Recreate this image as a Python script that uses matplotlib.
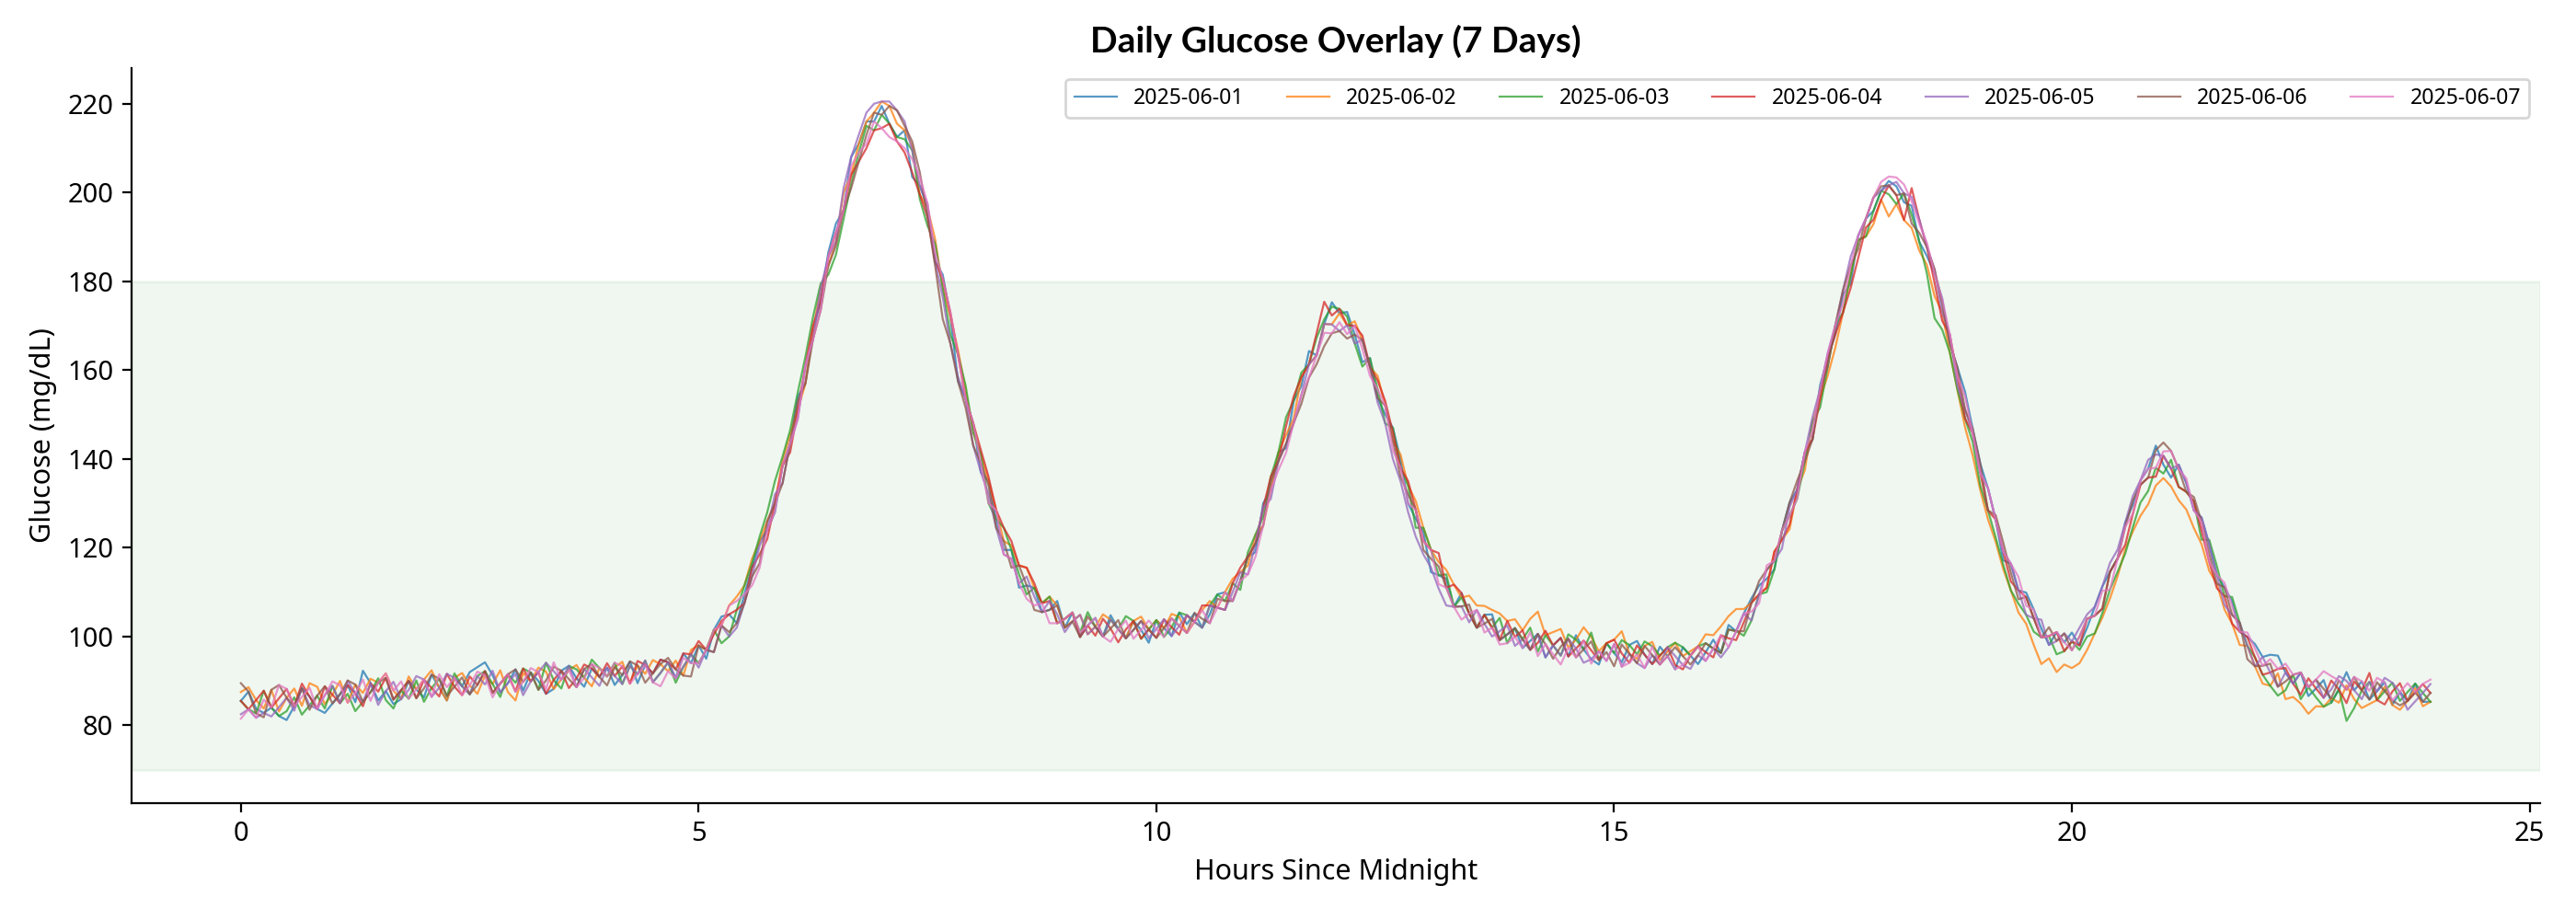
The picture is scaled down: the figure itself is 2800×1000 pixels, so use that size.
import numpy as np
import matplotlib
matplotlib.use("Agg")
import matplotlib.pyplot as plt

plt.rcParams['font.family'] = ['Noto Sans', 'DejaVu Sans']

# one reading every 5 minutes -> 288 per day
hours = np.arange(288) / 12

days = ['2025-06-01', '2025-06-02', '2025-06-03', '2025-06-04',
        '2025-06-05', '2025-06-06', '2025-06-07']

# typical day (mg/dL), 24 readings per row = 2 hours
typical = [
    85.5, 85.6, 85.7, 85.8, 86.0, 86.1, 86.2, 86.3, 86.4, 86.5, 86.7, 86.8, 86.9, 87.0, 87.1, 87.2, 87.3, 87.5, 87.6, 87.7, 87.8, 87.9, 88.0, 88.1,
    88.3, 88.4, 88.5, 88.6, 88.7, 88.8, 89.0, 89.1, 89.2, 89.3, 89.4, 89.5, 89.6, 89.8, 89.9, 90.0, 90.1, 90.2, 90.3, 90.4, 90.6, 90.7, 90.8, 90.9,
    91.0, 91.1, 91.3, 91.4, 91.5, 91.6, 91.7, 91.8, 92.2, 92.6, 93.2, 94.0, 96.0, 97.0, 98.5, 100.5, 103.0, 106.0, 109.5, 113.5, 118.5, 124.0, 130.0, 136.5,
    143.5, 151.0, 159.0, 167.0, 175.5, 183.5, 191.0, 198.0, 204.0, 209.0, 213.0, 216.0, 217.5, 217.5, 215.5, 212.0, 207.5, 201.5, 194.5, 186.5, 178.5, 170.0, 161.5, 153.5,
    146.0, 139.0, 132.0, 126.5, 121.5, 117.5, 114.0, 111.5, 109.0, 107.5, 106.0, 105.0, 104.0, 103.4, 102.9, 102.5, 102.2, 102.0, 101.8, 101.7, 101.6, 101.5, 101.5, 101.6,
    101.7, 101.9, 102.1, 102.4, 102.8, 103.3, 104.0, 105.0, 106.5, 108.0, 110.0, 112.5, 116.0, 121.0, 127.0, 133.0, 139.5, 145.4, 151.1, 156.4, 161.3, 165.3, 168.4, 170.3,
    170.8, 170.1, 168.0, 164.8, 160.7, 155.7, 150.0, 144.0, 138.0, 132.0, 126.5, 121.5, 117.5, 113.8, 111.0, 108.7, 106.8, 105.2, 104.0, 102.9, 102.0, 101.2, 100.5, 99.9,
    99.4, 99.0, 98.6, 98.3, 98.0, 97.7, 97.5, 97.3, 97.1, 96.9, 96.7, 96.5, 96.3, 96.2, 96.1, 96.0, 95.9, 95.8, 95.7, 95.6, 95.6, 95.6, 95.7, 95.8,
    96.5, 97.3, 98.3, 99.6, 101.2, 103.2, 105.6, 109.5, 113.0, 117.1, 121.8, 127.2, 133.1, 139.5, 146.4, 153.6, 160.8, 168.1, 175.0, 181.5, 187.3, 192.1, 195.9, 198.4,
    199.6, 199.4, 197.8, 195.0, 190.9, 185.7, 179.7, 173.1, 166.0, 158.6, 151.1, 143.8, 136.9, 130.4, 124.4, 119.2, 114.4, 110.4, 106.9, 104.1, 101.8, 100.1, 99.0, 98.7,
    98.9, 100.0, 102.0, 104.7, 108.3, 112.6, 117.6, 122.7, 127.7, 132.2, 135.8, 138.0, 138.7, 137.8, 135.7, 132.6, 128.4, 123.8, 118.8, 113.9, 109.1, 104.9, 101.1, 97.9,
    95.3, 93.4, 91.9, 90.7, 89.9, 89.4, 88.9, 88.6, 88.3, 88.2, 88.1, 88.1, 88.0, 87.9, 87.9, 87.8, 87.7, 87.7, 87.6, 87.5, 87.5, 87.4, 87.3, 87.3,
]

# how each day differs from the typical day (mg/dL)
dev_0601 = [
    0, 2, -2, -3, -2, -4, -5, -2, 2, 0, -3, -4, -2, 0, 2, -2, 5, 2, -2, 0, -3, -2, 2, 0,
    -2, 3, 0, -3, 2, 0, 3, 4, 5, 2, -2, 0, 3, -2, 2, 0, -3, -2, 2, 3, 0, -2, 2, 0,
    2, -2, 0, 3, -2, 2, 0, 3, 2, -2, 3, 0, 2, -2, 3, 4, 2, -3, 0, 2, 3, 0, -2, 2,
    0, 3, -2, 2, 0, 3, 2, -2, 4, 2, 3, 0, 2, -2, -3, 2, -4, 0, 2, -2, 3, 2, -4, 0,
    2, -2, 3, 0, -2, 2, -3, 0, 2, -2, 0, 3, -2, 2, -3, 0, 2, -2, 3, 0, -2, 2, 0, -3,
    2, 0, -2, 3, 0, 2, -2, 0, 3, 2, -2, 0, 2, -2, 3, 0, 2, -3, 2, 0, 3, -2, 2, 5,
    2, 3, 0, -3, 2, -2, 0, 3, 2, -2, 0, 2, -3, 0, 2, -2, 3, 0, -2, 2, 3, -2, 0, 2,
    -2, 0, 2, -3, 0, 2, -2, 3, 0, -2, -3, 2, 0, -2, 2, 3, 0, -2, 2, 0, -3, 2, 0, -2,
    0, 2, -2, 3, 0, 2, 3, 2, 0, -2, 2, 3, 0, 2, -2, 3, 2, 0, 2, -2, 3, 2, 0, 2,
    3, 2, 0, 2, -2, 0, 2, 3, 0, 2, 4, 3, 2, 3, 2, -2, 2, 0, 3, 2, 0, -2, 2, 0,
    2, -2, 0, 2, 3, 2, 0, 3, 2, 3, 2, 5, 0, -2, 3, 2, 0, 3, 2, 0, 2, 3, 0, 2,
    3, 2, 4, 5, 2, 0, 3, -2, 0, 2, -3, 0, 4, 0, 2, -2, 0, 2, -3, 0, -2, 2, -2, -2,
]
dev_0602 = [
    2, 3, 0, -2, 2, -3, 0, 2, -2, 3, 2, -2, 0, 3, -2, 2, 0, 3, 2, 4, 0, -2, 3, 0,
    2, 4, 0, -3, 2, 3, 0, -2, 2, 0, 3, -2, -4, 2, 0, 3, 2, -2, 0, 2, 3, 0, -2, 2,
    0, 2, 3, -2, 2, 0, 3, 2, 0, 2, -2, 3, 2, 0, 3, 2, 4, 3, 2, 4, 3, 2, 0, 3,
    2, 0, -2, 2, 3, 0, -2, 2, 0, 2, 3, 2, 3, 2, 0, 2, 3, -2, 2, 3, 0, 2, 3, 2,
    0, 2, 3, 2, 0, 3, 2, 4, 2, 0, 3, 2, -2, 0, 2, -2, 0, 3, 2, 0, -2, 2, 3, 0,
    2, 0, 3, 2, -2, 0, 2, 3, 0, 2, 3, 2, 0, 2, -2, 0, 2, 0, -2, 2, 0, -2, 2, 0,
    2, 0, 3, 2, 0, 3, 2, 0, 3, 2, 4, 3, 2, 3, 4, 3, 2, 4, 3, 4, 4, 4, 3, 4,
    2, 5, 7, 2, 3, 4, 0, 2, 5, 3, 0, 2, 3, 5, 0, -1, 2, 3, -1, 1, 3, 0, 1, 2,
    4, 3, 4, 5, 5, 3, 2, 0, -2, 2, 0, -3, 0, -2, 2, 0, -2, -3, -2, 0, 2, -2, -3, 0,
    -5, -2, -4, -3, -4, -2, -3, 0, -2, -3, -4, -3, -4, -4, -3, -4, -4, -5, -4, -6, -8, -5, -7, -5,
    -6, -6, -5, -4, -4, -4, -4, -3, -4, -5, -6, -4, -3, -4, -5, -4, -4, -3, -4, -2, -3, -2, -3, 0,
    -2, -4, -3, 1, -4, -3, -4, -6, -4, -4, -2, -3, 1, -2, -4, -3, -2, 1, -3, -4, -2, 1, -3, -2,
]
dev_0603 = [
    0, -2, -3, 2, -2, -4, -3, 0, -4, -2, 0, -3, 2, -2, 0, -4, -2, 0, 3, -2, -4, 0, -2, 2,
    -3, 0, 2, -2, 3, 0, -2, 2, 3, 0, -3, 2, 0, 3, 2, -2, 4, 0, -2, 3, 2, 0, 4, 2,
    0, 3, -2, 2, 0, 3, -2, 0, 2, -3, 0, 2, -2, 0, 3, -2, -3, 0, 2, 3, 4, 4, 5, 4,
    3, 4, 4, 5, 4, -2, -5, -4, -2, 0, 2, -2, 0, -2, -3, 0, 2, -3, -2, 2, 0, -2, 2, 3,
    0, 2, -2, 0, 3, 2, 0, -2, 2, 0, 3, -2, 0, 2, -2, 3, 0, -2, 2, 0, 3, 2, -2, 0,
    2, -2, 0, 3, 2, 0, -2, 2, 3, 0, 2, -2, 3, 2, 0, 3, 2, 4, 2, 3, 0, 2, 3, 4,
    3, 2, -2, -4, 2, 0, -2, 3, 0, 2, -2, 3, 2, 0, 3, -2, 2, 0, -2, 2, 0, 3, -2, 2,
    0, 3, -2, 2, 0, -2, 3, 2, 0, 4, -2, 2, 0, 3, 2, 0, 3, 2, 0, 2, 3, 2, 0, 2,
    2, 0, -2, 2, 0, -3, -2, 0, -3, -2, 2, 0, -2, 0, 2, -2, 0, 2, -2, 0, 2, -2, 0, 2,
    0, -2, 2, 0, -2, -4, -8, -4, -2, -3, -2, 0, -3, -2, -2, -3, -4, -3, -2, -3, -2, 0, -3, -2,
    0, -3, -2, -4, -3, -2, -3, -4, -3, -2, -3, 0, -2, 2, -2, 0, 2, -2, 3, 2, 0, 4, 2, 0,
    0, -2, -3, -4, -2, 2, -3, 0, -2, -4, -3, 0, -7, -4, 0, 2, -2, 0, 2, -2, 0, 2, 0, -2,
]
dev_0604 = [
    0, -2, 0, 2, -2, 0, 2, -2, 3, 0, -3, 2, 0, -2, 2, 0, -3, 2, 0, 3, -2, 0, 2, -2,
    2, 0, -2, 3, 0, -2, 2, 0, 3, -2, 0, 2, -2, 3, 0, 2, -3, 0, 2, -2, 0, 3, 2, 0,
    3, 0, 2, -2, 3, 2, 0, 3, 2, 0, 3, 2, 3, 0, 2, 3, 2, 0, -2, 2, 0, -2, 0, 2,
    -2, 0, 2, 3, 0, 2, 0, -2, 0, -2, -3, -2, -3, -2, -4, -3, -3, -2, 0, -2, 2, 3, 2, 0,
    2, 3, 4, 2, 3, 4, 2, 4, 3, 0, 2, -2, 0, 2, -3, 0, -2, 2, 0, -3, 0, 2, -2, 0,
    -2, 2, 0, -2, 2, 0, 3, 2, 0, -2, 2, 3, 2, 0, 2, 3, 0, 2, 3, 2, 0, 3, 7, 2,
    3, 0, 2, 3, 0, 2, 3, 2, 0, 3, 2, 0, 2, 5, 0, 3, 3, 0, -2, 2, 0, -2, 3, 0,
    2, -2, 0, 3, 0, 2, -2, 0, 2, 0, -2, 2, 3, 0, -2, 2, 0, -2, 0, 2, -2, -3, 0, 2,
    0, -2, 2, 0, -2, 0, 2, 0, -2, 2, 0, -2, 0, 2, -2, 0, 2, 0, -2, -3, -2, 0, -2, 0,
    2, 0, -4, 6, 3, 2, 0, -2, 2, 0, -2, 2, 0, -2, 2, 0, -2, 0, 2, 0, -2, 0, 2, -2,
    0, -2, 2, 0, -2, 2, 0, -2, 0, 2, 0, -2, 2, 0, -2, 0, 2, 0, -2, -3, 0, -2, 0, 2,
    0, -2, 0, 2, 3, 0, -2, 2, 0, -2, 2, 0, -3, 2, 0, 4, -2, -3, 0, 2, -2, 0, 2, 0,
]
dev_0605 = [
    -3, -2, -4, -3, -4, -2, 0, -3, 2, -2, -3, 0, 2, -2, 3, 0, -2, 2, -3, 0, 2, -2, 0, 3,
    2, -2, 0, 3, 2, 0, -2, 2, 0, 3, -2, 0, 2, -3, 0, 2, 4, 2, 0, 3, -2, 2, 0, -2,
    2, 0, -2, 2, 0, 3, -2, 0, 2, -2, 0, 2, -3, 0, -2, 2, -3, -4, -2, 0, 2, 0, 2, -2,
    0, -2, 2, 0, 3, 2, -2, 3, 4, 4, 5, 4, 3, 3, 3, 4, 2, 0, 3, -2, -2, -4, -3, 0,
    -3, -2, 0, -2, -3, 0, -2, 2, 0, -2, 2, 0, -3, 0, 2, -2, 0, -2, 2, 0, -2, 0, 2, -2,
    0, 2, -2, 0, 2, 0, -2, 2, 0, -2, 0, 2, -2, 0, 2, -2, 0, -2, -3, -2, 0, -2, 2, 0,
    -2, 0, -2, 2, 0, -3, -2, -4, -3, -4, -4, -3, -2, -3, -4, -2, 0, -2, 2, 0, -2, 0, 2, -2,
    0, -2, 2, -3, 0, -2, 2, 0, -3, -2, 0, -2, 2, -3, 0, -2, -3, 0, -2, 2, 0, -2, -3, 0,
    -2, 0, -3, -2, 0, 2, -2, 0, 2, 0, -2, 2, 0, 2, 3, 2, 3, 2, 3, 4, 3, 2, 3, 2,
    2, 3, 2, 4, 3, 2, 3, 0, 2, -2, 0, 2, 0, 3, 2, 0, 2, 0, -2, 0, 2, -2, 0, 2,
    0, 2, 3, 2, 3, 4, 2, 3, 4, 3, 4, 3, 2, 0, 3, 2, 0, 3, 2, 0, -2, 0, 2, 0,
    -2, 2, 0, -2, 2, 0, 3, 0, 2, -2, 0, 3, 2, 0, -2, 2, 0, 3, 2, 0, -4, -2, 0, 2,
]
dev_0606 = [
    4, 2, -3, -4, 2, 3, 0, -2, 2, -3, 0, 2, -2, 0, 3, 2, -2, 0, 2, 3, -2, 0, 2, -2,
    0, 3, 2, -2, 0, 2, -2, 0, 3, -2, 0, 2, 3, 0, 2, -2, 0, 3, 2, 0, -2, 2, 3, 0,
    -2, 2, 0, 3, 2, -2, 0, 2, 3, 0, -2, -3, 2, 0, -2, 2, -2, -3, -2, 0, -2, 2, 0, -2,
    0, 2, -2, 0, -2, 0, -3, -2, -3, -2, 0, 2, 0, 2, 3, 3, 4, 3, 0, -3, -7, -4, -4, -2,
    -3, 0, 2, -2, 0, -2, 2, 0, -3, -2, 0, 2, -2, 0, -3, 2, 0, -2, 0, 2, -2, 0, 2, 0,
    -2, 0, 2, 0, -2, 2, 0, -2, 2, 0, -2, 0, 2, 0, -2, 2, 0, -2, -3, -4, -3, -4, -3, -2,
    -2, -3, 0, 2, 0, -2, 2, 0, -2, 0, 2, -2, 0, 2, 0, -2, 0, 2, -2, 0, 2, -2, 0, 2,
    0, -2, 2, 0, -3, 0, 2, -2, 0, 2, -2, 0, -3, 2, 0, -2, 2, 0, -2, 0, 2, 0, -2, 0,
    2, 0, -2, 2, 0, -2, 2, 3, 2, 0, 2, 3, 2, 0, -2, 2, 0, 2, 3, 2, 0, 2, 3, 3,
    2, 0, 2, -2, 0, 2, 3, 2, 0, 2, 0, 3, 2, -2, 3, 2, 0, -2, 2, 0, -2, 2, 0, 2,
    -2, 0, 2, 0, -2, 2, 0, 2, 3, 2, 0, 4, 5, 4, 2, 0, 3, 2, 0, -2, 2, 0, 2, -3,
    -2, 0, 2, -2, 0, 2, 3, 0, 2, 0, -2, 2, 0, 3, 0, -2, 2, 0, -2, -3, -2, 0, -2, 0,
]
dev_0607 = [
    -4, -2, -4, 0, -2, 3, 2, -2, 0, 2, -3, 0, 3, 2, -2, 0, 3, -2, 2, 4, 0, 2, -2, 0,
    2, -2, 3, 0, 2, -2, 0, 3, 2, -3, 0, 2, -2, 0, 3, 2, -2, 4, 0, 2, -2, 0, 3, 2,
    0, 3, 2, -2, 0, 2, -2, -3, 0, -2, 2, 0, -2, 0, 3, 2, 4, 2, 0, -2, -3, 0, -2, 2,
    0, -2, 2, 0, -2, 2, 0, -2, 2, 0, -2, 0, -3, -5, -4, -2, 0, 2, 3, 0, 2, 3, 2, 0,
    2, 0, -2, 2, -3, 0, -2, -3, -2, 0, -3, -2, 0, 2, -2, 0, 2, -2, -3, 0, 2, -2, 0, 2,
    0, -2, 2, 0, -2, 0, 2, -2, 0, 2, -2, 0, -2, -3, -2, 0, -2, -4, -3, -2, -3, -2, 0, -2,
    0, -2, 2, 0, -2, 0, 2, -2, 0, -2, 2, 0, 2, -2, 0, -2, -3, 0, 2, -2, 0, -3, -2, 0,
    -2, 2, -3, 0, -2, -4, 0, -2, 2, -3, 0, -2, 2, -3, -2, 0, -3, 2, -2, 0, -3, -2, 0, 2,
    -2, 0, 2, -2, 0, 2, 0, -2, 3, 0, 2, 0, -2, 2, 0, 2, 3, 2, 0, 2, 3, 2, 3, 4,
    4, 4, 4, 3, 2, 3, 2, 3, 2, 0, 3, 2, 0, 3, 2, 0, 2, 3, 0, 2, -2, 0, 2, 0,
    -2, 0, 2, 0, 2, -2, 0, 2, 0, 3, 2, 0, 3, 4, 2, 3, 0, 2, -2, 0, 3, 2, 0, 3,
    2, 0, 3, 2, 4, 2, 3, 0, 2, 4, 3, 2, 0, 3, 2, 0, 3, 2, -2, 0, 2, 0, 2, 3,
]

deviations = [dev_0601, dev_0602, dev_0603, dev_0604, dev_0605, dev_0606, dev_0607]

fig, ax = plt.subplots(figsize=(14, 5), dpi=200)
fig.subplots_adjust(left=0.051, right=0.986, top=0.926, bottom=0.127)

# target range band
ax.axhspan(70, 180, color='green', alpha=0.06)

base = np.array(typical)
for day, dev in zip(days, deviations):
    ax.plot(hours, base + np.array(dev), lw=0.8, alpha=0.75, label=day)

ax.set_title('Daily Glucose Overlay (7 Days)', fontsize=14, fontweight='bold',
             family=['Lato', 'DejaVu Sans'])
ax.set_xlabel('Hours Since Midnight', fontsize=11)
ax.set_ylabel('Glucose (mg/dL)', fontsize=11)
ax.tick_params(labelsize=10.5)
ax.spines['top'].set_visible(False)
ax.spines['right'].set_visible(False)
ax.legend(loc='upper right', ncol=7, fontsize=8.3)

fig.savefig('out.png', dpi=200)
